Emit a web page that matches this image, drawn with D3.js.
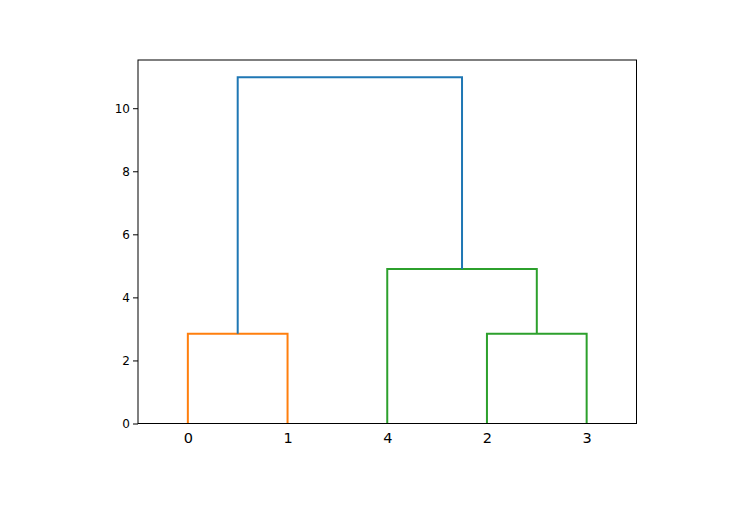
<!DOCTYPE html>
<html><head><meta charset="utf-8">
<script src="https://cdn.jsdelivr.net/npm/d3@7"></script>
<style>body{margin:0;background:#fff}svg{display:block}text{font-family:"DejaVu Sans",sans-serif}</style>
</head><body><svg id="c" width="749" height="514"></svg>
<script>
const leafLabels = ["0", "1", "4", "2", "3"];
const leafPositions = [5, 15, 25, 35, 45];
const icoord = [[5,5,15,15],[35,35,45,45],[25,25,40,40],[10,10,32.5,32.5]];
const dcoord = [[0,2.85,2.85,0],[0,2.85,2.85,0],[0,4.9,4.9,2.85],[2.85,10.98,10.98,4.9]];
const linkColors = ["#ff7f0e","#2ca02c","#2ca02c","#1f77b4"];
const yTicks = [0, 2, 4, 6, 8, 10];
const yMax = 10.98 * 1.05;

const svg = d3.select("#c");
svg.append("rect").attr("width",749).attr("height",514).attr("fill","#fff");
const L = 138, R = 636.5, T = 60, B = 423.5;
const x = d3.scaleLinear().domain([0, 50]).range([L, R]);
const y = d3.scaleLinear().domain([0, yMax]).range([B, T]);

const line = d3.line().x(d => x(d[0])).y(d => y(d[1]));
icoord.forEach((ic, i) => {
  const pts = ic.map((v, j) => [v, dcoord[i][j]]);
  svg.append("path").attr("d", line(pts)).attr("fill","none")
    .attr("stroke", linkColors[i]).attr("stroke-width", 2);
});

// frame
svg.append("rect").attr("x",L).attr("y",T).attr("width",R-L).attr("height",B-T)
  .attr("fill","none").attr("stroke","#000").attr("stroke-width",1);

const yAxis = d3.axisLeft(y).tickValues(yTicks).tickSize(5).tickPadding(3);
const gy = svg.append("g").attr("transform",`translate(${L},0)`).call(yAxis);
gy.select(".domain").remove();
gy.selectAll("text").attr("font-size",12).attr("fill","#000").attr("font-family","DejaVu Sans");
gy.selectAll("line").attr("stroke","#000");

const xAxis = d3.axisBottom(x).tickValues(leafPositions)
  .tickFormat((d, i) => leafLabels[i]).tickSize(0).tickPadding(9);
const gx = svg.append("g").attr("transform",`translate(0,${B})`).call(xAxis);
gx.select(".domain").remove();
gx.selectAll("text").attr("font-size",14.5).attr("fill","#000").attr("font-family","DejaVu Sans");
</script></body></html>
